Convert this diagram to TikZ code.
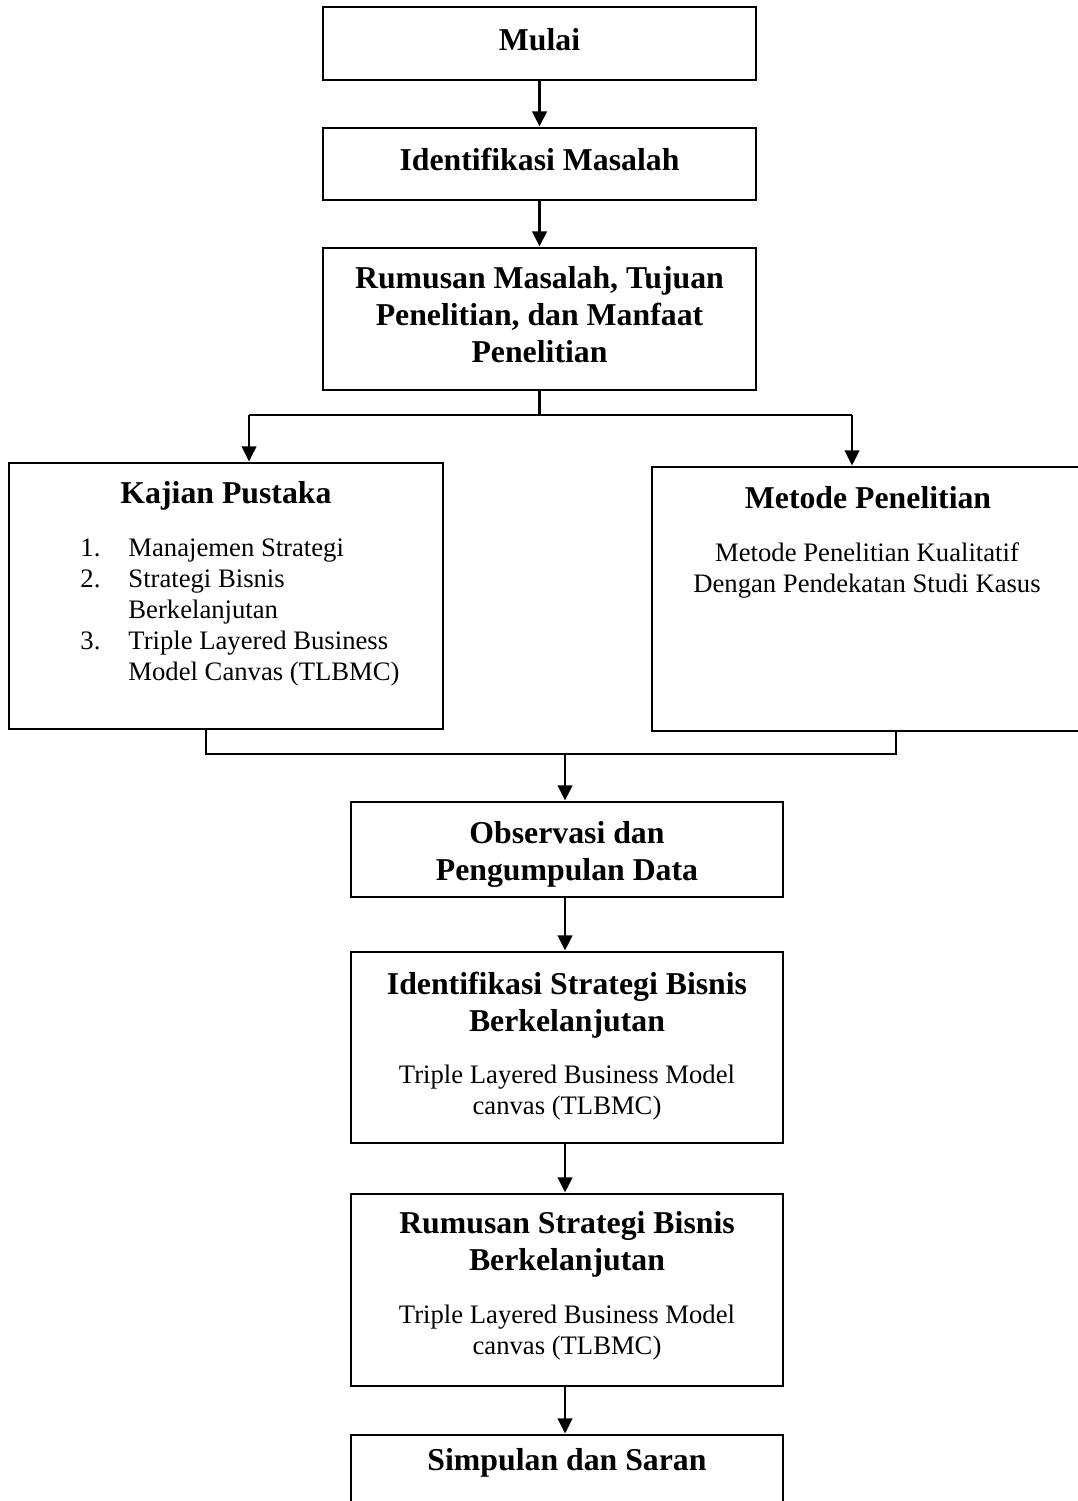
\documentclass[tikz,border=0pt]{standalone}
\usepackage{fontspec}
\setmainfont{Liberation Serif}
\usetikzlibrary{arrows.meta}

\newcommand{\satuan}{0.45pt}

\tikzset{
  kotak/.style={draw, line width=1.3pt, inner sep=0pt},
  judul/.style={font=\fontsize{14.3}{16.65}\selectfont\bfseries, align=center, inner sep=0pt},
  isi/.style={font=\fontsize{12}{14}\selectfont, align=center, inner sep=0pt},
  garis/.style={line width=1pt},
  panah/.style={garis, -{Triangle[width=6.5pt,length=6.8pt]}}
}

\begin{document}
\begin{tikzpicture}[x=\satuan, y=-\satuan]
\useasboundingbox (0,0) rectangle (1078,1501);
\clip (0,0) rectangle (1078,1501);

% kotak alur
\node[kotak, minimum width=433*\satuan, minimum height=73*\satuan] (mulai) at (539.5,43.5) {};
\node[kotak, minimum width=433*\satuan, minimum height=72*\satuan] (idmasalah) at (539.5,164) {};
\node[kotak, minimum width=433*\satuan, minimum height=142*\satuan] (rumusan) at (539.5,319) {};
\node[kotak, minimum width=434*\satuan, minimum height=266*\satuan] (kajian) at (226,596) {};
\node[kotak, minimum width=434*\satuan, minimum height=264*\satuan] (metode) at (869,599) {};
\node[kotak, minimum width=432*\satuan, minimum height=95*\satuan] (observasi) at (567,849.5) {};
\node[kotak, minimum width=432*\satuan, minimum height=191*\satuan] (idstrategi) at (567,1047.5) {};
\node[kotak, minimum width=432*\satuan, minimum height=192*\satuan] (rumstrategi) at (567,1290) {};
\node[kotak, minimum width=432*\satuan, minimum height=100*\satuan] (simpulan) at (567,1485) {};

% teks
\node[judul] (mulaiT) at (539.5,39.5) {Mulai};
\node[judul] (idmasalahT) at (539.5,159.5) {Identifikasi Masalah};
\node[judul] (rumusanT) at (539.5,314.5) {Rumusan Masalah, Tujuan\\Penelitian, dan Manfaat\\Penelitian};
\node[judul] (kajianT) at (226,495.5) {Kajian Pustaka};
\node[isi, anchor=north west, align=left] (kajianI) at (80,534.2) {%
  \begin{tabular}{@{}p{21.6pt}@{}l@{}}
  1. & Manajemen Strategi\\
  2. & Strategi Bisnis\\
     & Berkelanjutan\\
  3. & Triple Layered Business\\
     & Model Canvas (TLBMC)
  \end{tabular}};
\node[judul] (metodeT) at (868,497.5) {Metode Penelitian};
\node[isi] (metodeI) at (867,570.9) {Metode Penelitian Kualitatif\\Dengan Pendekatan Studi Kasus};
\node[judul] (observasiT) at (567,854.2) {Observasi dan\\Pengumpulan Data};
\node[judul] (idstrategiT) at (567,1004.7) {Identifikasi Strategi Bisnis\\Berkelanjutan};
\node[isi] (idstrategiI) at (567,1093) {Triple Layered Business Model\\canvas (TLBMC)};
\node[judul] (rumstrategiT) at (567,1244.2) {Rumusan Strategi Bisnis\\Berkelanjutan};
\node[isi] (rumstrategiI) at (567,1332.3) {Triple Layered Business Model\\canvas (TLBMC)};
\node[judul] (simpulanT) at (567,1462.7) {Simpulan dan Saran};

% titik cabang
\coordinate (cabang) at (539.5,415);
\coordinate (cabangKiri) at (249,415);
\coordinate (cabangKanan) at (852,415);
\coordinate (gabung) at (565,754);
\coordinate (gabungKiri) at (206,754);
\coordinate (gabungKanan) at (896,754);

% penghubung
\draw[panah] (mulai) -- (idmasalah);
\draw[panah] (idmasalah) -- (rumusan);
\draw[garis] (rumusan.south) -- (cabang);
\draw[garis] (cabangKiri) -- (cabangKanan);
\draw[panah] (cabangKiri) -- (cabangKiri |- kajian.north);
\draw[panah] (cabangKanan) -- (cabangKanan |- metode.north);
\draw[garis] (kajian.south -| gabungKiri) -- (gabungKiri) -- (gabungKanan) -- (metode.south -| gabungKanan);
\draw[panah] (gabung) -- (gabung |- observasi.north);
\draw[panah] (observasi.south -| gabung) -- (idstrategi.north -| gabung);
\draw[panah] (idstrategi.south -| gabung) -- (rumstrategi.north -| gabung);
\draw[panah] (rumstrategi.south -| gabung) -- (simpulan.north -| gabung);
\end{tikzpicture}
\end{document}
